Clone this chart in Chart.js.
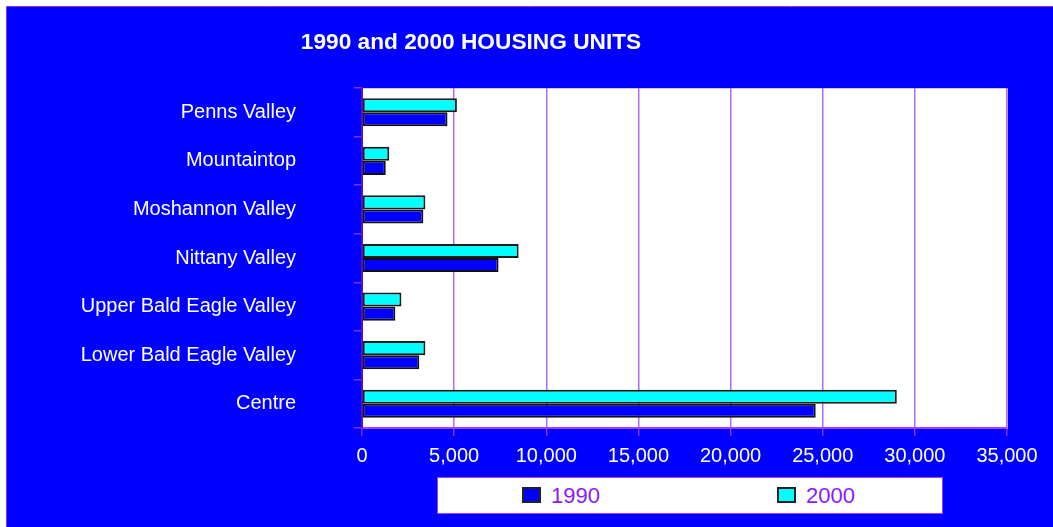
<!DOCTYPE html>
<html>
<head>
<meta charset="utf-8">
<script src="https://cdn.jsdelivr.net/npm/chart.js@4"></script>
<style>
  html, body { margin: 0; padding: 0; background: #fff; }
  #wrap { position: relative; width: 1053px; height: 527px; overflow: hidden; }
  #chart { position: absolute; left: 0; top: 0; }
  #title {
    position: absolute; left: 0; top: 28px; width: 942px; text-align: center;
    font: bold 22.7px "Liberation Sans", Arial, sans-serif; color: #fff;
  }
  #legend {
    position: absolute; left: 437px; top: 477px; width: 504px; height: 35px;
    background: #fff; border: 1px solid #9a40ff;
    font: 22px "Liberation Sans", Arial, sans-serif; color: #8b1aff;
  }
  .item { position: absolute; top: 5px; line-height: 25px; }
  .swatch {
    display: inline-block; width: 15px; height: 12px; border: 2px solid #222;
    vertical-align: 0px; margin-right: 10px;
  }
</style>
</head>
<body>
<div id="wrap">
  <canvas id="chart" width="1053" height="527"></canvas>
  <div id="title">1990 and 2000 HOUSING UNITS</div>
  <div id="legend"></div>
</div>
<script>
// data
const regions = ["Penns Valley", "Mountaintop", "Moshannon Valley", "Nittany Valley",
                 "Upper Bald Eagle Valley", "Lower Bald Eagle Valley", "Centre"];
const units1990 = [4640, 1290, 3330, 7410, 1810, 3110, 24620];
const units2000 = [5150, 1480, 3440, 8500, 2140, 3440, 29020];
const xTicks = [0, 5000, 10000, 15000, 20000, 25000, 30000, 35000];

const BLUE = "#0000ff", CYAN = "#00ffff";
const FONT = "'Liberation Sans', Arial, sans-serif";

// blue panel + white plot area
const backdrop = {
  id: "backdrop",
  beforeDraw(chart) {
    const { ctx, chartArea: a } = chart;
    ctx.save();
    ctx.fillStyle = "#fff";
    ctx.fillRect(0, 0, chart.width, chart.height);
    ctx.fillStyle = BLUE;
    ctx.fillRect(7, 7, chart.width - 7, chart.height - 7);
    ctx.strokeStyle = "#8a2be2";
    ctx.lineWidth = 1;
    ctx.beginPath();
    ctx.moveTo(6.5, chart.height); ctx.lineTo(6.5, 6.5); ctx.lineTo(chart.width, 6.5);
    ctx.stroke();
    ctx.fillStyle = "#fff";
    ctx.fillRect(a.left, a.top, a.right - a.left, a.bottom - a.top);
    ctx.strokeStyle = "#c9c4ff";
    ctx.strokeRect(a.left + 0.5, a.top + 0.5, a.right - a.left, a.bottom - a.top);
    ctx.restore();
  }
};

const chart = new Chart(document.getElementById("chart"), {
  type: "bar",
  data: {
    labels: regions,
    datasets: [
      { label: "2000", data: units2000, backgroundColor: CYAN, borderColor: "#1a1a1a",
        borderWidth: 2, borderSkipped: false },
      { label: "1990", data: units1990, backgroundColor: BLUE, borderColor: "#111",
        borderWidth: 2, borderSkipped: false }
    ]
  },
  options: {
    indexAxis: "y",
    responsive: false,
    animation: false,
    devicePixelRatio: 1,
    categoryPercentage: 0.58,
    barPercentage: 1,
    layout: { padding: { left: 0, right: 46, top: 88, bottom: 0 } },
    plugins: {
      legend: { display: false },
      title: { display: false },
      tooltip: { enabled: false }
    },
    scales: {
      x: {
        min: 0, max: 35000,
        afterBuildTicks: s => { s.ticks = xTicks.map(v => ({ value: v })); },
        afterFit: s => { s.height = 99; },
        grid: { color: "#b36bff", lineWidth: 1.5, tickLength: 8, tickColor: "#8a2be2" },
        border: { color: "#a040ff", width: 2 },
        ticks: {
          color: "#fff", padding: 8, maxRotation: 0,
          font: { family: FONT, size: 20 },
          callback: v => v.toLocaleString("en-US")
        }
      },
      y: {
        afterFit: s => { s.width = 362; },
        grid: { drawOnChartArea: false, tickLength: 8, tickColor: "#8a2be2", lineWidth: 1.5 },
        border: { color: "#5a10c0", width: 2 },
        ticks: {
          color: "#fff", padding: 58, crossAlign: "near",
          font: { family: FONT, size: 20 }
        }
      }
    }
  },
  plugins: [backdrop]
});

// legend box, 1990 first
const legend = document.getElementById("legend");
const order = [1, 0];
const offsets = [84, 339];
order.forEach((di, i) => {
  const ds = chart.data.datasets[di];
  const el = document.createElement("div");
  el.className = "item";
  el.style.left = offsets[i] + "px";
  el.innerHTML = `<span class="swatch" style="background:${ds.backgroundColor}"></span>${ds.label}`;
  legend.appendChild(el);
});
</script>
</body>
</html>
